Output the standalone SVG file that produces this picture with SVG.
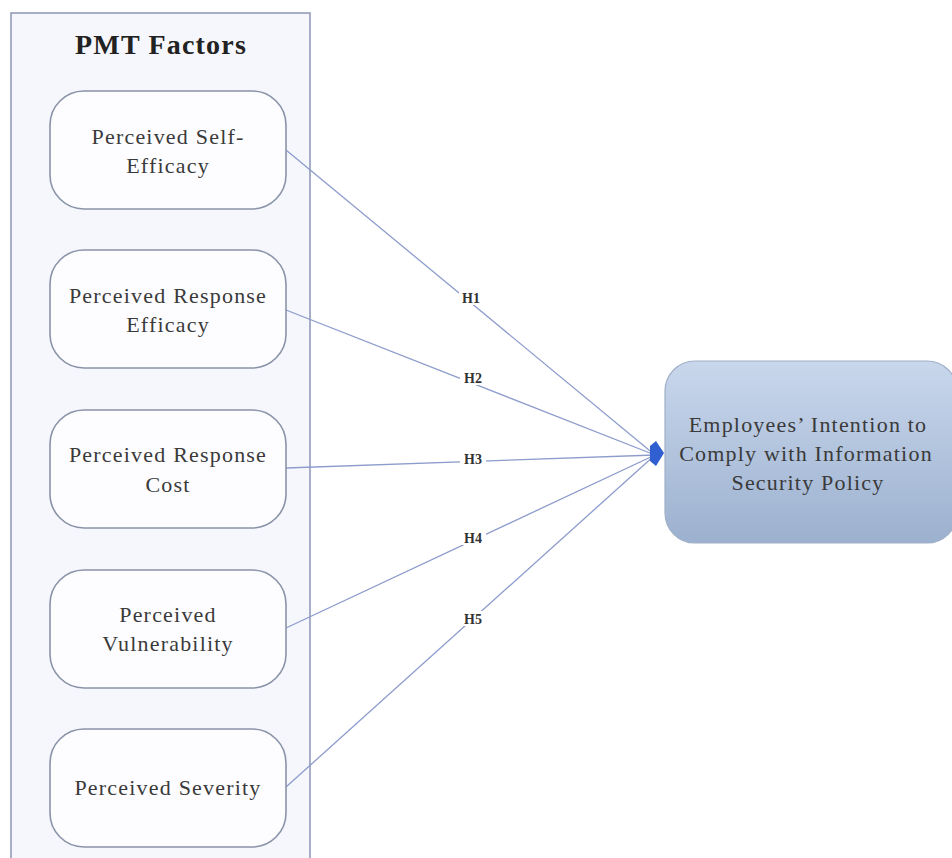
<svg xmlns="http://www.w3.org/2000/svg" width="952" height="858" viewBox="0 0 952 858">
<style>
.node rect{fill:#fdfdff;stroke:#8a93a8;stroke-width:1.6}
.nt{font-family:"Liberation Serif",serif;font-size:22px;letter-spacing:1.2px;fill:#3a3a3a;text-anchor:middle}
.lbl{font-family:"Liberation Serif",serif;font-size:14px;font-weight:bold;fill:#333;text-anchor:middle}
.edge{stroke:#8d9ccc;stroke-width:1.3;fill:none}
</style>
<defs>
<linearGradient id="g" x1="0" y1="0" x2="0" y2="1">
<stop offset="0" stop-color="#c9d7ec"/>
<stop offset="1" stop-color="#9cb1cf"/>
</linearGradient>
</defs>
<rect width="952" height="858" fill="#ffffff"/>
<g id="container">
<rect x="11" y="13" width="299" height="860" fill="#f5f7fc" stroke="#8a96b4" stroke-width="1.5"/>
<text x="161" y="54" font-family="Liberation Serif,serif" font-size="28" font-weight="bold" letter-spacing="1.2" fill="#222" text-anchor="middle">PMT Factors</text>
</g>
<g id="connectors">
<line class="edge" x1="286" y1="150" x2="655" y2="455"/>
<line class="edge" x1="286" y1="310" x2="655" y2="455"/>
<line class="edge" x1="286" y1="468" x2="655" y2="455" stroke="#6f84c8"/>
<line class="edge" x1="286" y1="628" x2="655" y2="455"/>
<line class="edge" x1="286" y1="787" x2="655" y2="455"/>
<polygon points="650,446 656,441 664,453 656,466 650,461" fill="#2f5fd0"/>
<rect x="459" y="290" width="26" height="15" fill="#fff"/>
<text class="lbl" x="471" y="303">H1</text>
<rect x="460" y="370" width="26" height="15" fill="#fff"/>
<text class="lbl" x="473" y="383">H2</text>
<rect x="460" y="451" width="26" height="15" fill="#fff"/>
<text class="lbl" x="473" y="464">H3</text>
<rect x="460" y="530" width="26" height="15" fill="#fff"/>
<text class="lbl" x="473" y="543">H4</text>
<rect x="460" y="611" width="26" height="15" fill="#fff"/>
<text class="lbl" x="473" y="624">H5</text>
</g>
<g id="n1" class="node">
<rect x="50" y="91" width="236" height="118" rx="34"/>
<text class="nt" x="168" y="144">Perceived Self-</text>
<text class="nt" x="168" y="173">Efficacy</text>
</g>
<g id="n2" class="node">
<rect x="50" y="250" width="236" height="118" rx="34"/>
<text class="nt" x="168" y="303">Perceived Response</text>
<text class="nt" x="168" y="332">Efficacy</text>
</g>
<g id="n3" class="node">
<rect x="50" y="410" width="236" height="118" rx="34"/>
<text class="nt" x="168" y="462">Perceived Response</text>
<text class="nt" x="168" y="492">Cost</text>
</g>
<g id="n4" class="node">
<rect x="50" y="570" width="236" height="118" rx="34"/>
<text class="nt" x="168" y="622">Perceived</text>
<text class="nt" x="168" y="651">Vulnerability</text>
</g>
<g id="n5" class="node">
<rect x="50" y="729" width="236" height="118" rx="34"/>
<text class="nt" x="168" y="795">Perceived Severity</text>
</g>
<g id="target">
<rect x="665" y="361" width="292" height="182" rx="30" fill="url(#g)" stroke="#9fb0c8" stroke-width="1.2"/>
<text class="nt" x="808" y="432">Employees’ Intention to</text>
<text class="nt" x="806" y="461">Comply with Information</text>
<text class="nt" x="808" y="490">Security Policy</text>
</g>
</svg>
